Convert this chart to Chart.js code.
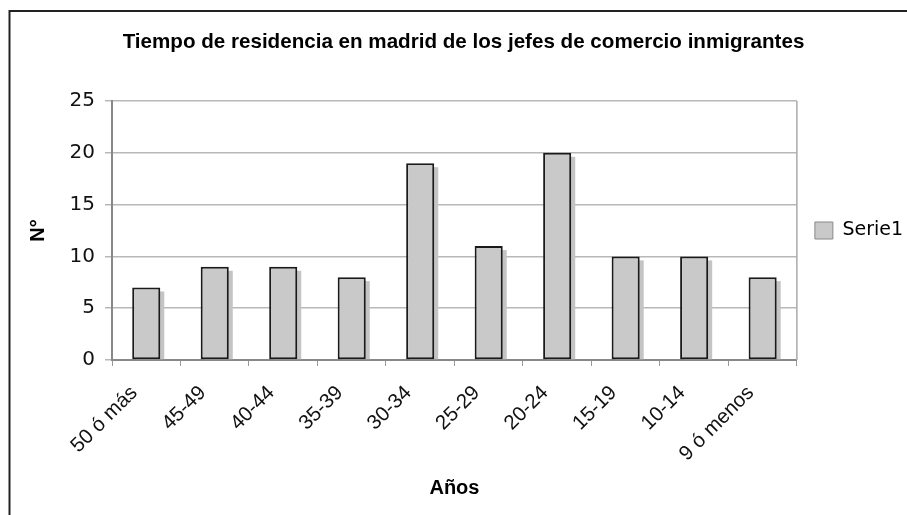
<!DOCTYPE html>
<html>
<head>
<meta charset="utf-8">
<script src="https://cdn.jsdelivr.net/npm/chart.js@4"></script>
<style>
	body { margin: 0; background: #fff; }
</style>
</head>
<body>
<canvas id="chart" width="907" height="515"></canvas>
<script>
const categories = ["50 ó más", "45-49", "40-44", "35-39", "30-34", "25-29", "20-24", "15-19", "10-14", "9 ó menos"];
const serie1 = [7, 9, 9, 8, 19, 11, 20, 10, 10, 8];
const yTicks = [0, 5, 10, 15, 20, 25];

// white page + black frame on the left and top
const framePlugin = {
	id: "frame",
	beforeDraw: (chart) => {
		const ctx = chart.ctx;
		ctx.save();
		ctx.fillStyle = "#fff";
		ctx.fillRect(0, 0, chart.width, chart.height);
		ctx.restore();
	},
	afterDraw: (chart) => {
		const { ctx, chartArea } = chart;
		ctx.save();
		ctx.strokeStyle = "#222";
		ctx.lineWidth = 2;
		ctx.beginPath();
		ctx.moveTo(9.5, chart.height);
		ctx.lineTo(9.5, 11);
		ctx.lineTo(chart.width, 11);
		ctx.stroke();
		// right edge of the plot area
		ctx.strokeStyle = "#aaa";
		ctx.lineWidth = 1.5;
		ctx.beginPath();
		ctx.moveTo(chartArea.right, chartArea.top);
		ctx.lineTo(chartArea.right, chartArea.bottom);
		ctx.stroke();
		ctx.restore();
	},
};

// drop shadow behind each bar
const shadowPlugin = {
	id: "shadow",
	beforeDatasetsDraw: (chart) => {
		const ctx = chart.ctx;
		const meta = chart.getDatasetMeta(0);
		ctx.save();
		ctx.fillStyle = "#c4c4c4";
		meta.data.forEach((bar) => {
			const left = bar.x - bar.width / 2 + 4;
			ctx.fillRect(left, bar.y + 4, bar.width, bar.base - bar.y - 4);
		});
		ctx.restore();
	},
};

new Chart(document.getElementById("chart"), {
	type: "bar",
	data: {
		labels: categories,
		datasets: [
			{
				label: "Serie1",
				data: serie1,
				backgroundColor: "#c9c9c9",
				borderColor: "#1a1a1a",
				borderWidth: 2,
				borderSkipped: false,
				barPercentage: 0.41,
				categoryPercentage: 1,
			},
		],
	},
	plugins: [framePlugin, shadowPlugin],
	options: {
		responsive: false,
		animation: false,
		layout: {
			padding: { left: 14, right: -6, top: 0, bottom: 0 },
		},
		plugins: {
			title: {
				display: true,
				text: "Tiempo de residencia en madrid de los jefes de comercio inmigrantes",
				color: "#000",
				font: { family: "Liberation Sans", size: 20.6, weight: "bold" },
				padding: { top: 29.6, bottom: 46.7 },
			},
			legend: {
				position: "right",
				fullSize: false,
				labels: {
					color: "#000",
					font: { family: "DejaVu Sans", size: 19 },
					boxWidth: 18,
					boxHeight: 17,
					padding: 18,
					generateLabels: (chart) =>
						chart.data.datasets.map((ds, i) => ({
							text: ds.label,
							fillStyle: ds.backgroundColor,
							strokeStyle: "#888",
							lineWidth: 1,
							datasetIndex: i,
						})),
				},
			},
			tooltip: { enabled: false },
		},
		scales: {
			x: {
				afterFit: (scale) => {
					scale.height = 155;
				},
				grid: {
					drawOnChartArea: false,
					tickLength: 6,
					color: "#999",
					lineWidth: 1,
				},
				border: { color: "#888", width: 2 },
				ticks: {
					color: "#111",
					font: { family: "Liberation Sans", size: 20.5 },
					minRotation: 45,
					maxRotation: 45,
					padding: 15,
					labelOffset: -12,
				},
				title: {
					display: true,
					text: "Años",
					color: "#000",
					font: { family: "Liberation Sans", size: 20, weight: "bold" },
					padding: { top: 0, bottom: 15 },
				},
			},
			y: {
				min: 0,
				max: 25,
				afterFit: (scale) => {
					scale.width = 98;
				},
				afterBuildTicks: (scale) => {
					scale.ticks = yTicks.map((v) => ({ value: v }));
				},
				grid: {
					color: "#b8b8b8",
					lineWidth: 1.5,
					tickLength: 7,
				},
				border: { color: "#888", width: 2 },
				ticks: {
					color: "#111",
					font: { family: "DejaVu Sans", size: 20 },
					padding: 10,
				},
				title: {
					display: true,
					text: "N°",
					color: "#000",
					font: { family: "Liberation Sans", size: 20, weight: "bold" },
					padding: { top: 12, bottom: 0 },
				},
			},
		},
	},
});
</script>
</body>
</html>
